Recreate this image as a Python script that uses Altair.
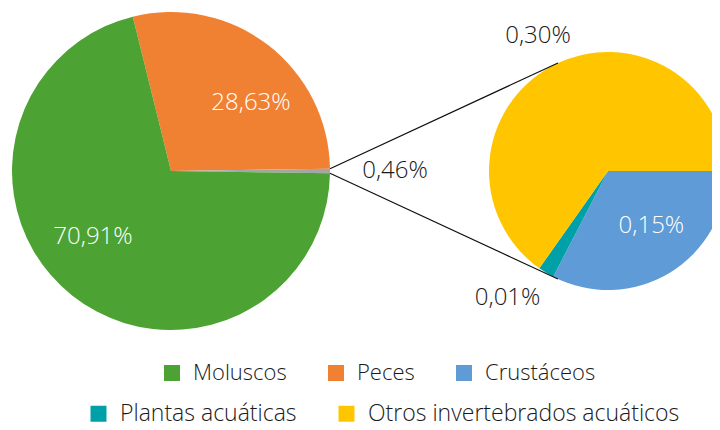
import math
import pandas as pd
import altair as alt

# ---- data ----
left_cats = ["Peces", "Otros", "Moluscos"]
left_vals = [28.63, 0.46, 70.91]
left_text = ["28,63%", "0,46%", "70,91%"]

right_cats = ["Crustáceos", "Plantas acuáticas", "Otros invertebrados acuáticos"]
right_vals = [0.15, 0.01, 0.30]
right_text = ["0,15%", "0,01%", "0,30%"]

legend1 = ["Moluscos", "Peces", "Crustáceos"]
legend2 = ["Plantas acuáticas", "Otros invertebrados acuáticos"]

# ---- style ----
colors = {
    "Moluscos": "#4CA232",
    "Peces": "#F08132",
    "Otros": "#A5A5A5",
    "Crustáceos": "#5F9BD6",
    "Plantas acuáticas": "#00A0A8",
    "Otros invertebrados acuáticos": "#FFC600",
}
FONT = "Open Sans"
FW = 300
FS_LAB = 24
DARK = "#1a1a1a"

W, H = 704, 414
c1 = (163.0, 163.0); r1 = 159.0
c2 = (600.0, 163.0); r2 = 119.0

TAU = 2 * math.pi
tot1 = sum(left_vals)
tot2 = sum(right_vals)
# split slice centered at 3 o'clock
a0 = math.pi / 2 - TAU * (left_vals[0] + left_vals[1] / 2) / tot1
b0 = math.pi / 2

# label placement (angle shift in degrees, radius, color)
place = {
    "Peces": (12.0, 105, "white"),
    "Otros": (0.0, 224, DARK),
    "Moluscos": (11.4, 102, "white"),
    "Crustáceos": (-7.0, 70, "white"),
    "Plantas acuáticas": (7.0, 162, DARK),
    "Otros invertebrados acuáticos": (0.0, 152, DARK),
}


def pt(c, r, ang):
    return (c[0] + r * math.sin(ang), c[1] - r * math.cos(ang))


def labels(cats, vals, texts, start, c):
    tot = sum(vals)
    rows = []
    cum = 0.0
    for cat, v, t in zip(cats, vals, texts):
        mid = start + TAU * (cum + v / 2) / tot
        cum += v
        d, r, col = place[cat]
        x, y = pt(c, r, mid + math.radians(d))
        rows.append({"cat": cat, "txt": t, "px": x, "py": y, "col": col})
    return rows


df1 = pd.DataFrame({"cat": left_cats, "val": left_vals, "idx": range(len(left_cats))})
df2 = pd.DataFrame({"cat": right_cats, "val": right_vals, "idx": range(len(right_cats))})
lab = pd.DataFrame(labels(left_cats, left_vals, left_text, a0, c1)
                   + labels(right_cats, right_vals, right_text, b0, c2))

# connector lines: from split-slice edges to tangent points of second pie
g_start = a0 + TAU * left_vals[0] / tot1
g_end = g_start + TAU * left_vals[1] / tot1
conn = []
for ang, sgn in [(g_start, -1), (g_end, 1)]:
    P = pt(c1, r1, ang)
    dx, dy = c2[0] - P[0], c2[1] - P[1]
    d = math.hypot(dx, dy)
    ux, uy = dx / d, dy / d
    al = sgn * math.asin(r2 / d)
    L = math.sqrt(d * d - r2 * r2)
    tx = P[0] + L * (ux * math.cos(al) - uy * math.sin(al))
    ty = P[1] + L * (ux * math.sin(al) + uy * math.cos(al))
    conn.append({"x": P[0], "y": P[1], "x2": tx, "y2": ty})
conn = pd.DataFrame(conn)


def leg(values, lx, ly, fs):
    return alt.Legend(
        orient="none", legendX=lx, legendY=ly, direction="horizontal",
        title=None, values=values, symbolType="square", symbolSize=256,
        symbolStrokeWidth=0, labelFont=FONT, labelFontWeight=FW,
        labelFontSize=fs, labelColor=DARK, labelOffset=10,
        columnPadding=38, padding=0, labelLimit=500,
    )


dom1 = ["Moluscos", "Peces", "Crustáceos", "Otros"]
dom2 = right_cats

pie1 = alt.Chart(df1).mark_arc(outerRadius=r1).encode(
    x=alt.value(c1[0]), y=alt.value(c1[1]),
    theta=alt.Theta("val:Q", stack=True, scale=alt.Scale(range=[a0, a0 + TAU])),
    order=alt.Order("idx:Q"),
    color=alt.Color("cat:N", scale=alt.Scale(domain=dom1, range=[colors[k] for k in dom1]),
                    legend=leg(legend1, 153, 354, 22)),
)

pie2 = alt.Chart(df2).mark_arc(outerRadius=r2).encode(
    x=alt.value(c2[0]), y=alt.value(c2[1]),
    theta=alt.Theta("val:Q", stack=True, scale=alt.Scale(range=[b0, b0 + TAU])),
    order=alt.Order("idx:Q"),
    color=alt.Color("cat:N", scale=alt.Scale(domain=dom2, range=[colors[k] for k in dom2]),
                    legend=leg(legend2, 79, 394, 23)),
)

lines = alt.Chart(conn).mark_rule(color="#111111", strokeWidth=1.2).encode(
    x=alt.X("x:Q", scale=None), y=alt.Y("y:Q", scale=None),
    x2="x2:Q", y2="y2:Q",
)

text = alt.Chart(lab).mark_text(font=FONT, fontWeight=FW, fontSize=FS_LAB,
                                align="center", baseline="middle").encode(
    x=alt.X("px:Q", scale=None), y=alt.Y("py:Q", scale=None),
    text="txt:N", color=alt.Color("col:N", scale=None),
)

chart = alt.layer(pie1, pie2, lines, text).resolve_scale(
    theta="independent", color="independent"
).properties(width=W, height=H, padding=0, autosize="none").configure_view(stroke=None)

chart.save("out.html", embed_options={"renderer": "svg", "actions": False})
